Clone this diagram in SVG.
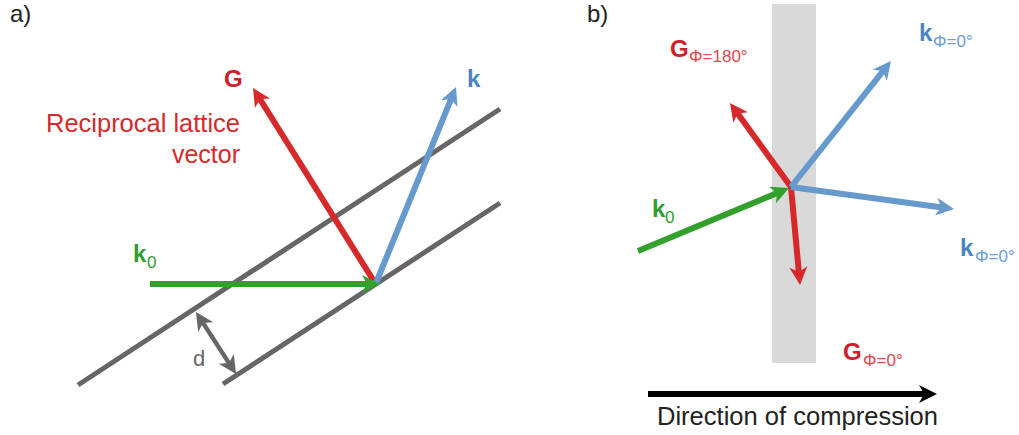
<svg xmlns="http://www.w3.org/2000/svg" width="1019" height="435" viewBox="0 0 1019 435">
<style>
  text { font-family: "Liberation Sans", Arial, sans-serif; }
  .panel { font-size: 24px; fill: #222; }
  .lbl { font-weight: bold; font-size: 24px; }
  .sub { font-weight: normal; font-size: 17px; }
  .lat { stroke: #666; stroke-width: 5; fill: none; }
  .v { fill: none; stroke-width: 6; }
  .red { stroke: #d7282a; }
  .blue { stroke: #6699cc; }
  .green { stroke: #33a02c; }
  .black { stroke: #000; }
</style>
<defs>
  <marker id="hr" viewBox="-10 -10 22 20" refX="0" refY="0" markerUnits="userSpaceOnUse" markerWidth="22" markerHeight="20" orient="auto"><path d="M10,0 L-8,-9 L-3,0 L-8,9 Z" fill="#d7282a"/></marker>
  <marker id="hb" viewBox="-10 -10 22 20" refX="0" refY="0" markerUnits="userSpaceOnUse" markerWidth="22" markerHeight="20" orient="auto"><path d="M10,0 L-8,-9 L-3,0 L-8,9 Z" fill="#6699cc"/></marker>
  <marker id="hg" viewBox="-10 -10 22 20" refX="0" refY="0" markerUnits="userSpaceOnUse" markerWidth="22" markerHeight="20" orient="auto"><path d="M10,0 L-8,-9 L-3,0 L-8,9 Z" fill="#33a02c"/></marker>
  <marker id="hk" viewBox="-10 -10 22 20" refX="0" refY="0" markerUnits="userSpaceOnUse" markerWidth="22" markerHeight="20" orient="auto"><path d="M10,0 L-8,-9 L-3,0 L-8,9 Z" fill="#000"/></marker>
  <marker id="hd" viewBox="-10 -10 22 20" refX="0" refY="0" markerUnits="userSpaceOnUse" markerWidth="22" markerHeight="20" orient="auto-start-reverse"><path d="M10,0 L-8,-9 L-3,0 L-8,9 Z" fill="#666"/></marker>
</defs>
<rect width="1019" height="435" fill="#fff"/>

<!-- Panel a -->
<text id="label-a" class="panel" x="10" y="22">a)</text>
<g id="lattice-planes">
  <line class="lat" x1="78" y1="385" x2="500" y2="109"/>
  <line class="lat" x1="223" y1="384" x2="500" y2="203"/>
</g>
<g id="connectors-a">
  <line class="v red" x1="375" y1="283" x2="258.3" y2="96.5" marker-end="url(#hr)"/>
  <line class="v blue" x1="376" y1="283" x2="452.2" y2="96.3" marker-end="url(#hb)"/>
  <line class="v green" x1="150" y1="284" x2="370" y2="284" marker-end="url(#hg)"/>
  <line stroke="#666" stroke-width="4.5" x1="201.4" y1="320.4" x2="230.6" y2="365.6" marker-start="url(#hd)" marker-end="url(#hd)"/>
</g>
<g id="labels-a">
  <text class="lbl" x="224" y="87" fill="#cc1f2a">G</text>
  <text class="lbl" x="467" y="87" fill="#4a85c1">k</text>
  <text x="46" y="132" font-size="25" fill="#d7282a" textLength="194" lengthAdjust="spacingAndGlyphs">Reciprocal lattice</text>
  <text x="240" y="163" font-size="25" fill="#d7282a" text-anchor="end">vector</text>
  <text class="lbl" fill="#2e9e2e"><tspan x="133" y="262">k</tspan><tspan class="sub" font-weight="bold" font-size="18" x="147" y="268">0</tspan></text>
  <text x="193" y="366" font-size="22" fill="#666">d</text>
</g>

<!-- Panel b -->
<text id="label-b" class="panel" x="587" y="22">b)</text>
<rect id="sample" x="772" y="4" width="44" height="359" fill="#d9d9d9"/>
<g id="connectors-b">
  <line class="v red" x1="791" y1="187" x2="735.9" y2="111.1" marker-end="url(#hr)"/>
  <line class="v red" x1="791" y1="187" x2="799.1" y2="275" marker-end="url(#hr)"/>
  <line class="v blue" x1="791" y1="187" x2="884.8" y2="68.8" marker-end="url(#hb)"/>
  <line class="v blue" x1="791" y1="187" x2="944.1" y2="207.7" marker-end="url(#hb)"/>
  <line class="v green" x1="638" y1="251" x2="779.8" y2="191.9" marker-end="url(#hg)"/>
  <line class="v black" x1="648" y1="394" x2="927" y2="394" marker-end="url(#hk)"/>
</g>
<g id="labels-b">
  <text class="lbl" fill="#cc1f2a"><tspan x="670" y="57">G</tspan><tspan class="sub" x="689" y="62" fill="#e0474c">Φ=180°</tspan></text>
  <text class="lbl" fill="#4a85c1"><tspan x="919" y="41">k</tspan><tspan class="sub" x="933" y="47" fill="#6ea0d6">Φ=0°</tspan></text>
  <text class="lbl" fill="#4a85c1"><tspan x="960" y="256">k</tspan><tspan class="sub" x="975" y="262" fill="#6ea0d6">Φ=0°</tspan></text>
  <text class="lbl" fill="#cc1f2a"><tspan x="843" y="360">G</tspan><tspan class="sub" x="863" y="366" fill="#e0474c">Φ=0°</tspan></text>
  <text class="lbl" fill="#2e9e2e"><tspan x="652" y="217">k</tspan><tspan class="sub" font-weight="bold" font-size="18" x="665" y="223">0</tspan></text>
  <text x="657" y="425" font-size="25" fill="#222" textLength="281" lengthAdjust="spacingAndGlyphs">Direction of compression</text>
</g>
</svg>
